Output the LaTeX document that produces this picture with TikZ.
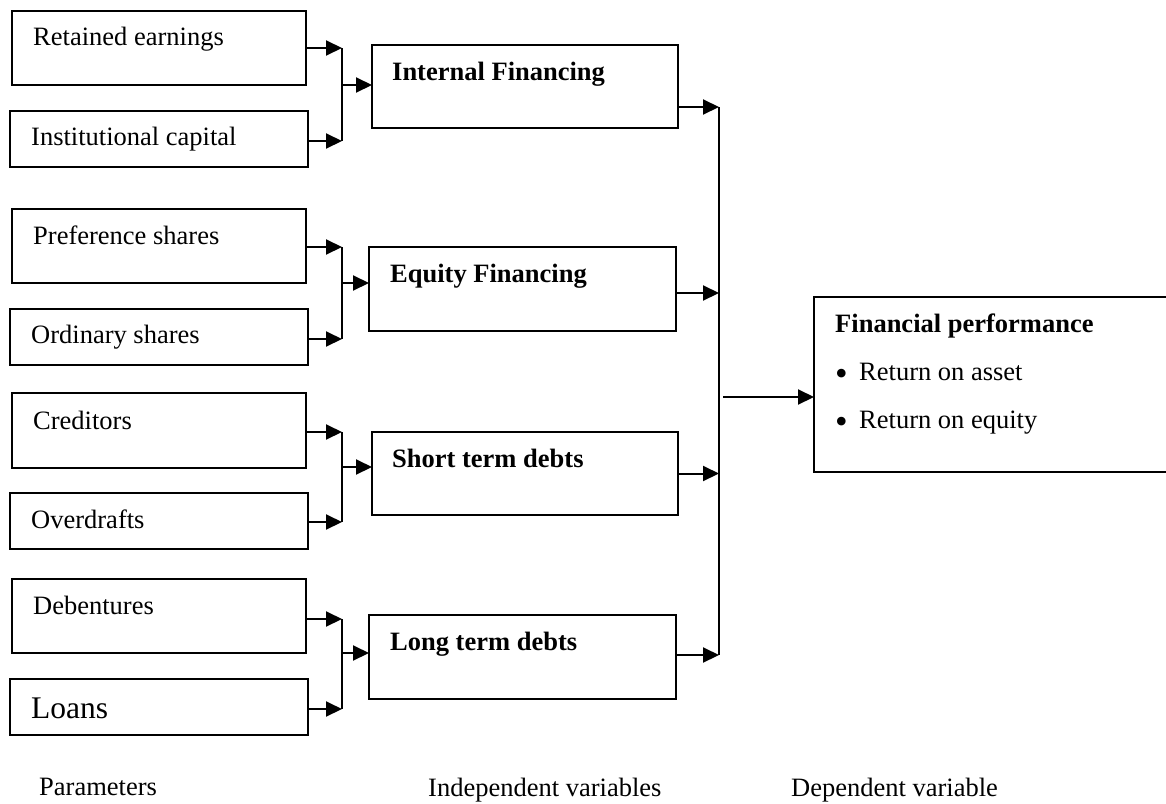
\documentclass[tikz,border=0pt]{standalone}
\usepackage{fontspec}
\setmainfont{Liberation Serif}
\usetikzlibrary{arrows.meta}
\begin{document}
\begin{tikzpicture}[x=1pt,y=-1pt,
  box/.style={draw, line width=2pt, inner sep=0pt, outer sep=0pt},
  lbl/.style={anchor=base west, inner sep=0pt, font=\fontsize{26.5}{30}\selectfont},
  blbl/.style={anchor=base west, inner sep=0pt, font=\fontsize{26.5}{30}\selectfont\bfseries},
  bul/.style={anchor=base west, inner sep=0pt, font=\fontsize{36}{40}\selectfont},
  arr/.style={line width=2pt, -{Triangle[length=16pt,width=15pt]}},
  ln/.style={line width=2pt}]
\useasboundingbox (0,0) rectangle (1166,803);
\clip (0,0) rectangle (1166,803);

% parameter boxes
\node[box, minimum width=294pt, minimum height=74pt] (ret)   at (159,48)    {};
\node[box, minimum width=298pt, minimum height=56pt] (inst)  at (159,139)   {};
\node[box, minimum width=294pt, minimum height=74pt] (pref)  at (159,246)   {};
\node[box, minimum width=298pt, minimum height=56pt] (ord)   at (159,337)   {};
\node[box, minimum width=294pt, minimum height=75pt] (cred)  at (159,430.5) {};
\node[box, minimum width=298pt, minimum height=56pt] (over)  at (159,521)   {};
\node[box, minimum width=294pt, minimum height=74pt] (deb)   at (159,616)   {};
\node[box, minimum width=298pt, minimum height=56pt] (loans) at (159,707)   {};

% independent variable boxes
\node[box, minimum width=306pt, minimum height=83pt] (int)   at (525,86.5)  {};
\node[box, minimum width=307pt, minimum height=84pt] (eq)    at (522.5,289) {};
\node[box, minimum width=306pt, minimum height=83pt] (short) at (525,473.5) {};
\node[box, minimum width=307pt, minimum height=84pt] (long)  at (522.5,657) {};

% dependent variable box
\node[box, minimum width=386pt, minimum height=175pt] (fp) at (1007,384.5) {};

% labels
\node[lbl] (tret)   at (33,45)  {Retained earnings};
\node[lbl] (tinst)  at (31,145) {Institutional capital};
\node[lbl] (tpref)  at (33,244) {Preference shares};
\node[lbl] (tord)   at (31,343) {Ordinary shares};
\node[lbl] (tcred)  at (33,429) {Creditors};
\node[lbl] (tover)  at (31,528) {Overdrafts};
\node[lbl] (tdeb)   at (33,614) {Debentures};
\node[anchor=base west, inner sep=0pt, font=\fontsize{31.5}{36}\selectfont] (tloans) at (31,718) {Loans};

\node[blbl] (tint)   at (392,80)  {Internal Financing};
\node[blbl] (teq)    at (390,282) {Equity Financing};
\node[blbl] (tshort) at (392,467) {Short term debts};
\node[blbl] (tlong)  at (390,650) {Long term debts};

\node[blbl] (tfp)  at (835,332) {Financial performance};
\node[bul]  (bu1)  at (835,385) {\textbullet};
\node[lbl]  (roa)  at (859,380) {Return on asset};
\node[bul]  (bu2)  at (835,433) {\textbullet};
\node[lbl]  (roe)  at (859,428) {Return on equity};

\node[lbl] (par) at (39,795)  {Parameters};
\node[lbl] (ind) at (428,796) {Independent variables};
\node[lbl] (dep) at (791,796) {Dependent variable};

% bracket coordinates
\coordinate (a1) at (342,48);  \coordinate (a2) at (342,141);
\coordinate (b1) at (342,247); \coordinate (b2) at (342,339);
\coordinate (c1) at (342,432); \coordinate (c2) at (342,522);
\coordinate (d1) at (342,619); \coordinate (d2) at (342,709);
\coordinate (bt) at (719,107); \coordinate (bb) at (719,655);
\coordinate (fs) at (723,397);

% parameter -> bracket
\draw[arr] (ret.east) -- (ret.east -| a1);
\draw[arr] ([yshift=-2pt]inst.east) -- ([yshift=-2pt]inst.east -| a1);
\draw[ln] (a1) -- (a2);
\draw[arr] ([yshift=1.5pt]int.west -| a1) -- ([yshift=1.5pt]int.west);

\draw[arr] ([yshift=-1pt]pref.east) -- ([yshift=-1pt]pref.east -| b1);
\draw[arr] ([yshift=-2pt]ord.east) -- ([yshift=-2pt]ord.east -| b1);
\draw[ln] (b1) -- (b2);
\draw[arr] ([yshift=6pt]eq.west -| b1) -- ([yshift=6pt]eq.west);

\draw[arr] ([yshift=-1.5pt]cred.east) -- ([yshift=-1.5pt]cred.east -| c1);
\draw[arr] ([yshift=-1pt]over.east) -- ([yshift=-1pt]over.east -| c1);
\draw[ln] (c1) -- (c2);
\draw[arr] ([yshift=6.5pt]short.west -| c1) -- ([yshift=6.5pt]short.west);

\draw[arr] ([yshift=-3pt]deb.east) -- ([yshift=-3pt]deb.east -| d1);
\draw[arr] ([yshift=-2pt]loans.east) -- ([yshift=-2pt]loans.east -| d1);
\draw[ln] (d1) -- (d2);
\draw[arr] ([yshift=4pt]long.west -| d1) -- ([yshift=4pt]long.west);

% independent -> bus
\draw[arr] ([yshift=-20.5pt]int.east) -- ([yshift=-20.5pt]int.east -| bt);
\draw[arr] ([yshift=-4pt]eq.east) -- ([yshift=-4pt]eq.east -| bt);
\draw[arr] (short.east) -- (short.east -| bt);
\draw[arr] ([yshift=2pt]long.east) -- ([yshift=2pt]long.east -| bt);
\draw[ln] (bt) -- (bb);

% bus -> dependent
\draw[arr] (fs) -- (fs -| fp.west);
\end{tikzpicture}
\end{document}
